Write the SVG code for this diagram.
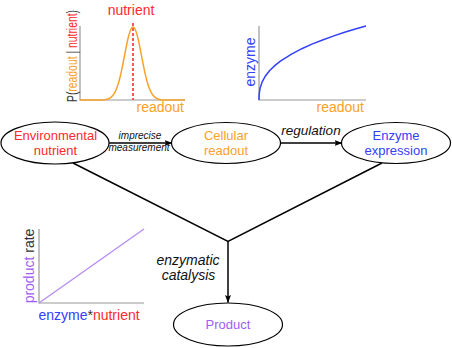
<svg xmlns="http://www.w3.org/2000/svg" width="452" height="348" viewBox="0 0 452 348">
<style>
text{font-family:"Liberation Sans",Arial,sans-serif;}
.node{fill:#fff;stroke:#000;stroke-width:1.2;}
.lbl{font-size:13px;text-anchor:middle;}
.edge{fill:none;stroke:#000;stroke-width:1.5;}
.axis{fill:none;stroke:#999;stroke-width:1.2;}
.it{font-style:italic;text-anchor:middle;fill:#111;}
.red{fill:#ff2a2a;}
.org{fill:#f9a12b;}
.blu{fill:#3340ff;}
.pur{fill:#a25cf5;}
.dk{fill:#333;}
</style>
<defs>
<marker id="arr" viewBox="0 0 8 6" refX="7.5" refY="3" markerWidth="8" markerHeight="6" markerUnits="userSpaceOnUse" orient="auto">
<path d="M0,0 L8,3 L0,6 L1.5,3 z" fill="#000"/>
</marker>
</defs>

<g id="plot-readout">
<path class="axis" d="M80,26 V100 H185"/>
<line x1="133" y1="23" x2="133" y2="100" stroke="#ff2020" stroke-width="1.5" stroke-dasharray="3,2"/>
<polyline fill="none" stroke="#f9a12b" stroke-width="1.5" points="80,100 101,100 105,99.68 108,99.03 111,97.4 113,95.4 115,92.25 117,87.6 118,84.6 119,81.2 120,77.3 121,73.05 122,68.4 123,63.5 124,58.3 125,53.1 126,48 127,43.1 128,38.6 129,34.65 130,31.4 131,29 132,27.5 133,27 134,27.5 135,29 136,31.4 137,34.65 138,38.6 139,43.1 140,48 141,53.1 142,58.3 143,63.5 144,68.4 145,73.05 146,77.3 147,81.2 148,84.6 149,87.6 151,92.25 153,95.4 155,97.4 158,99.03 161,99.68 165,100 185,100"/>
<text x="131" y="15" font-size="14" text-anchor="middle" class="red">nutrient</text>
<text x="184" y="112" font-size="14" text-anchor="end" class="org">readout</text>
<text transform="translate(77,56) rotate(-90)" x="0" y="0" font-size="14" text-anchor="middle" textLength="92" lengthAdjust="spacingAndGlyphs"><tspan class="dk">P(</tspan><tspan class="org">readout</tspan><tspan class="dk"> | </tspan><tspan class="red">nutrient</tspan><tspan class="dk">)</tspan></text>
</g>

<g id="plot-enzyme">
<path class="axis" d="M259,26 V100 H366"/>
<polyline fill="none" stroke="#3340ff" stroke-width="1.5" points="259,100 259.21,93.8 260.07,88.27 262.21,81.8 265.42,75.98 269.7,70.55 275.05,65.37 280.4,61.15 291.1,54.3 301.8,48.7 312.5,43.9 323.2,39.7 333.9,35.85 344.6,32.3 355.3,29.06 366,26"/>
<text transform="translate(255,62) rotate(-90)" font-size="14" text-anchor="middle" class="blu">enzyme</text>
<text x="364" y="112" font-size="14" text-anchor="end" class="org">readout</text>
</g>

<g id="plot-product">
<path class="axis" d="M39,229 V303 H144"/>
<line x1="39" y1="303" x2="144" y2="229" stroke="#b890f2" stroke-width="1.5"/>
<text transform="translate(34,266) rotate(-90)" font-size="14" text-anchor="middle"><tspan class="pur">product</tspan><tspan class="dk"> rate</tspan></text>
<text x="89" y="320" font-size="14" text-anchor="middle"><tspan class="blu">enzyme</tspan><tspan class="dk">*</tspan><tspan class="red">nutrient</tspan></text>
</g>

<g id="connectors">
<line class="edge" x1="109" y1="143" x2="172" y2="143" marker-end="url(#arr)"/>
<line class="edge" x1="281" y1="143" x2="342" y2="143" marker-end="url(#arr)"/>
<polyline class="edge" points="73,163 228,241.5 382,163"/>
<line class="edge" x1="228" y1="241.5" x2="228" y2="302.5" marker-end="url(#arr)"/>
<text class="it" x="140" y="138.5" font-size="10">imprecise</text>
<text class="it" x="139" y="151" font-size="10">measurement</text>
<text class="it" x="311" y="135" font-size="13.5">regulation</text>
<text class="it" x="188" y="264.5" font-size="14">enzymatic</text>
<text class="it" x="188.5" y="280" font-size="14">catalysis</text>
</g>

<g id="node-nutrient">
<ellipse class="node" cx="55" cy="143" rx="54" ry="21"/>
<text class="lbl red" x="55.5" y="140">Environmental</text>
<text class="lbl red" x="55.5" y="155">nutrient</text>
</g>

<g id="node-readout">
<ellipse class="node" cx="226" cy="143" rx="54.5" ry="20.5"/>
<text class="lbl org" x="226" y="139.5">Cellular</text>
<text class="lbl org" x="226" y="154.5">readout</text>
</g>

<g id="node-enzyme">
<ellipse class="node" cx="396" cy="143" rx="54.5" ry="20.5"/>
<text class="lbl blu" x="396" y="139.5">Enzyme</text>
<text class="lbl blu" x="396" y="154.5">expression</text>
</g>

<g id="node-product">
<ellipse class="node" cx="228" cy="324.5" rx="54.5" ry="21.5"/>
<text class="lbl pur" x="228" y="329">Product</text>
</g>
</svg>
